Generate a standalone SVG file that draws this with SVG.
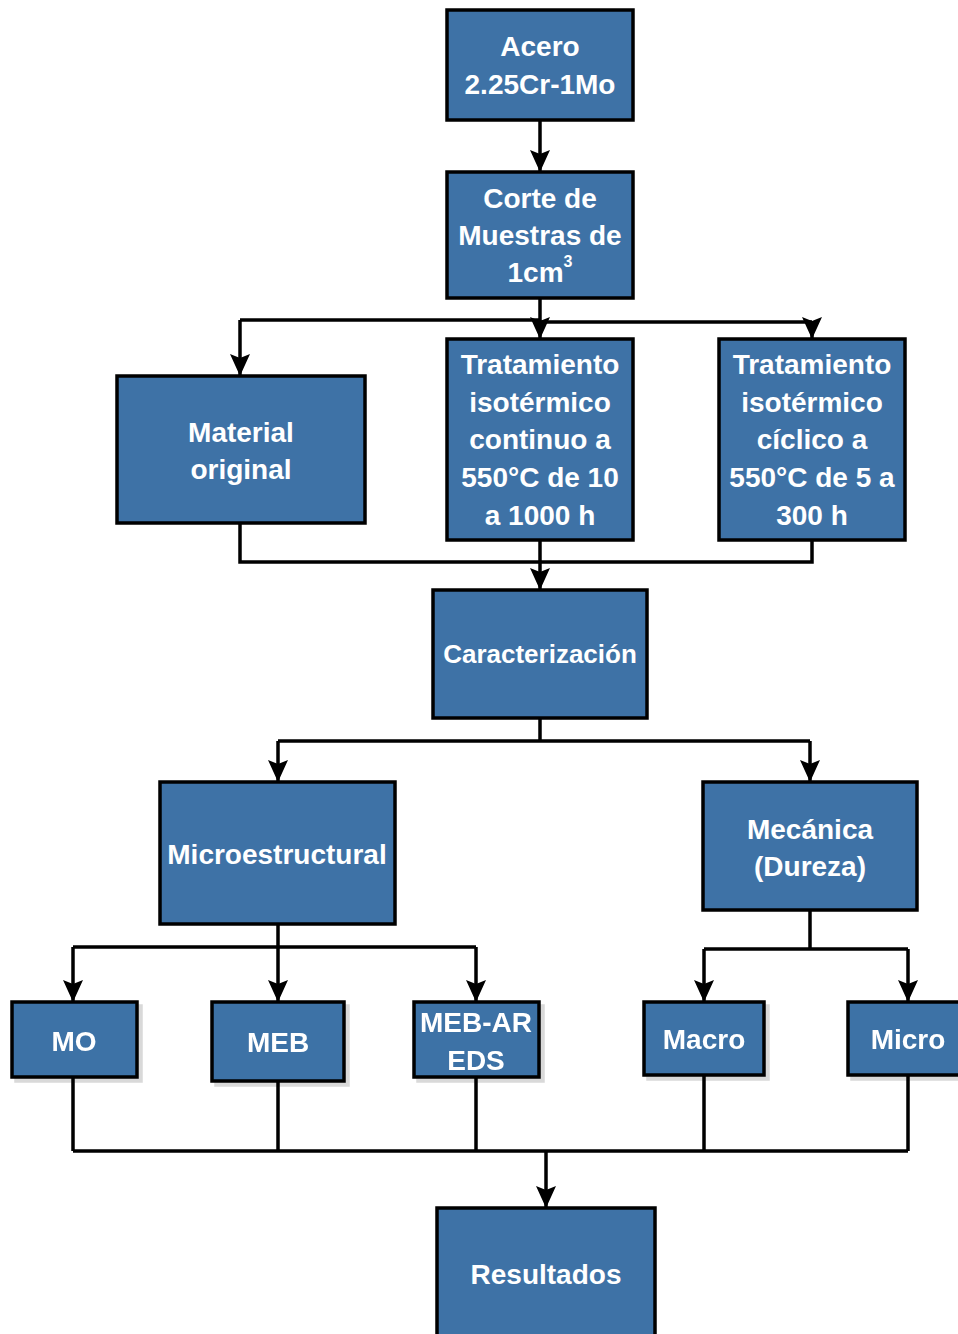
<svg xmlns="http://www.w3.org/2000/svg" width="958" height="1334" viewBox="0 0 958 1334">
<defs>
<marker id="ah" markerUnits="userSpaceOnUse" markerWidth="22" markerHeight="20" refX="21" refY="10" orient="auto" viewBox="0 0 22 20">
<path d="M0,0 L22,10 L0,20 L4,10 Z" fill="#000"/>
</marker>
<filter id="sh" x="-10%" y="-10%" width="130%" height="130%">
<feOffset dx="4" dy="4" in="SourceAlpha" result="o"/>
<feColorMatrix in="o" type="matrix" values="0 0 0 0 0  0 0 0 0 0  0 0 0 0 0  0 0 0 0.15 0" result="c"/>
<feMerge><feMergeNode in="c"/><feMergeNode in="SourceGraphic"/></feMerge>
</filter>
</defs>
<style>
.b{fill:#3E72A6;stroke:#000;stroke-width:3.5}
.t{fill:#fff;font-family:"Liberation Sans",Arial,sans-serif;font-weight:bold;font-size:28px;text-anchor:middle;dominant-baseline:central}
.s{font-size:26px}
.c{fill:none;stroke:#000;stroke-width:3.5}
.a{fill:none;stroke:#000;stroke-width:3.5;marker-end:url(#ah)}
</style>
<g id="connectors">
<line class="a" x1="540" y1="120" x2="540" y2="171"/>
<path class="c" d="M540,298 V322"/>
<path class="c" d="M540,320 H240"/>
<path class="c" d="M540,322 H812"/>
<line class="a" x1="240" y1="320" x2="240" y2="375"/>
<line class="a" x1="540" y1="322" x2="540" y2="338"/>
<line class="a" x1="812" y1="322" x2="812" y2="338"/>
<path class="c" d="M240,523 V562 H812 V540"/>
<line class="a" x1="540" y1="540" x2="540" y2="589"/>
<path class="c" d="M540,718 V741 M278,741 H810"/>
<line class="a" x1="278" y1="741" x2="278" y2="781"/>
<line class="a" x1="810" y1="741" x2="810" y2="781"/>
<path class="c" d="M278,924 V947 M73,947 H476"/>
<line class="a" x1="73" y1="947" x2="73" y2="1001"/>
<line class="a" x1="278" y1="947" x2="278" y2="1001"/>
<line class="a" x1="476" y1="947" x2="476" y2="1001"/>
<path class="c" d="M810,910 V949 M704,949 H908"/>
<line class="a" x1="704" y1="949" x2="704" y2="1001"/>
<line class="a" x1="908" y1="949" x2="908" y2="1001"/>
<path class="c" d="M73,1077 V1151 M278,1081 V1151 M476,1077 V1151 M704,1075 V1151 M908,1075 V1151 M73,1151 H908"/>
<line class="a" x1="546" y1="1151" x2="546" y2="1207"/>
</g>
<g id="acero"><rect class="b" x="447" y="10" width="186" height="110"/>
<text class="t" x="540" y="46">Acero</text><text class="t" x="540" y="84">2.25Cr-1Mo</text></g>
<g id="corte"><rect class="b" x="447" y="172" width="186" height="126"/>
<text class="t" x="540" y="198">Corte de</text><text class="t" x="540" y="235">Muestras de</text><text class="t" x="540" y="272">1cm<tspan font-size="16" dy="-11">3</tspan></text></g>
<g id="material"><rect class="b" x="117" y="376" width="248" height="147"/>
<text class="t" x="241" y="432">Material</text><text class="t" x="241" y="469">original</text></g>
<g id="continuo"><rect class="b" x="447" y="339" width="186" height="201"/>
<text class="t" x="540" y="364">Tratamiento</text><text class="t" x="540" y="402">isotérmico</text><text class="t" x="540" y="439">continuo a</text><text class="t" x="540" y="477">550°C de 10</text><text class="t" x="540" y="515">a 1000 h</text></g>
<g id="ciclico"><rect class="b" x="719" y="339" width="186" height="201"/>
<text class="t" x="812" y="364">Tratamiento</text><text class="t" x="812" y="402">isotérmico</text><text class="t" x="812" y="439">cíclico a</text><text class="t" x="812" y="477">550°C de 5 a</text><text class="t" x="812" y="515">300 h</text></g>
<g id="caracterizacion"><rect class="b" x="433" y="590" width="214" height="128"/>
<text class="t s" x="540" y="654">Caracterización</text></g>
<g id="microestructural"><rect class="b" x="160" y="782" width="235" height="142"/>
<text class="t" x="277" y="854">Microestructural</text></g>
<g id="mecanica"><rect class="b" x="703" y="782" width="214" height="128"/>
<text class="t" x="810" y="829">Mecánica</text><text class="t" x="810" y="866">(Dureza)</text></g>
<g id="mo" filter="url(#sh)"><rect class="b" x="12" y="1002" width="125" height="75"/>
<text class="t" x="74" y="1041">MO</text></g>
<g id="meb" filter="url(#sh)"><rect class="b" x="212" y="1002" width="132" height="79"/>
<text class="t" x="278" y="1042">MEB</text></g>
<g id="mebar" filter="url(#sh)"><rect class="b" x="414" y="1002" width="125" height="75"/>
<text class="t" x="476" y="1022">MEB-AR</text><text class="t" x="476" y="1060">EDS</text></g>
<g id="macro" filter="url(#sh)"><rect class="b" x="644" y="1002" width="120" height="73"/>
<text class="t" x="704" y="1039">Macro</text></g>
<g id="micro" filter="url(#sh)"><rect class="b" x="848" y="1002" width="120" height="73"/>
<text class="t" x="908" y="1039">Micro</text></g>
<g id="resultados"><rect class="b" x="437" y="1208" width="218" height="140"/>
<text class="t" x="546" y="1274">Resultados</text></g>
</svg>
